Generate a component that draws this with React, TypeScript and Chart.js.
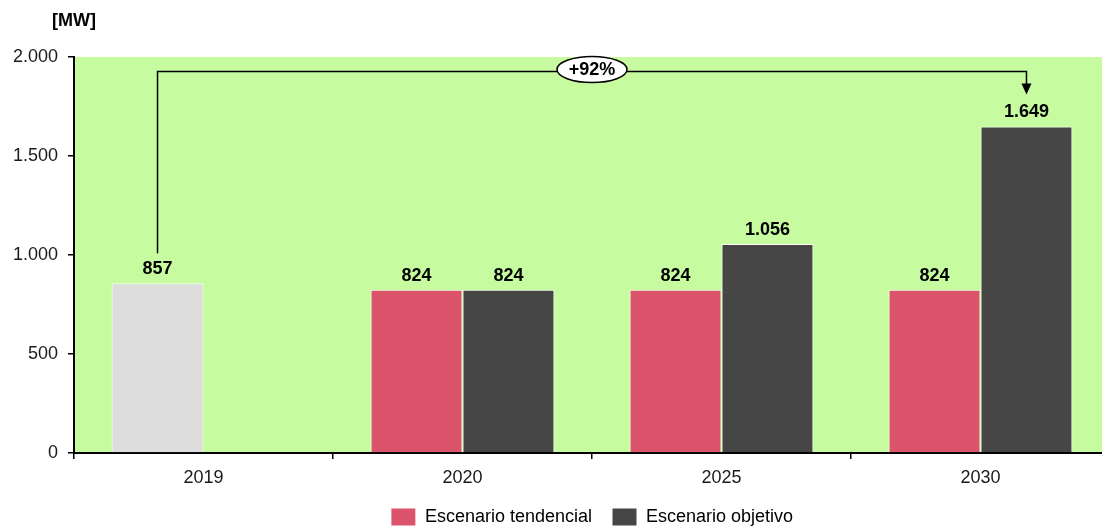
import React, { useEffect, useRef } from 'react';
import { Chart, registerables } from 'chart.js';
Chart.register(...registerables);

const categories = ['2019', '2020', '2025', '2030'];
const tendencialValues = [857, 824, 824, 824];
const objetivoValues: (number | null)[] = [null, 824, 1056, 1649];
const yTicks = [0, 500, 1000, 1500, 2000];
const seriesNames = ['Escenario tendencial', 'Escenario objetivo'];
const growthLabel = '+92%';
const unitLabel = '[MW]';

const RED = '#dc546b';
const DARK = '#464646';
const GRAY = '#dddddd';
const GREEN = '#c6fba0';
const TEXT = '#1a1a1a';
const FONT = "'Liberation Sans', Arial, Helvetica, sans-serif";

function fmt(v: number): string {
  return String(Math.round(v)).replace(/\B(?=(\d{3})+(?!\d))/g, '.');
}

const backgroundPlugin = {
  id: 'plotBg',
  beforeDraw(chart: any) {
    const { ctx, chartArea } = chart;
    ctx.save();
    ctx.fillStyle = GREEN;
    ctx.fillRect(chartArea.left, chartArea.top, chartArea.right - chartArea.left, chartArea.bottom - chartArea.top);
    ctx.restore();
  },
};

const valueLabelPlugin = {
  id: 'valueLabels',
  afterDatasetsDraw(chart: any) {
    const { ctx } = chart;
    ctx.save();
    ctx.font = `bold 18px ${FONT}`;
    ctx.fillStyle = '#000';
    ctx.textAlign = 'center';
    ctx.textBaseline = 'middle';
    chart.data.datasets.forEach((ds: any, di: number) => {
      const meta = chart.getDatasetMeta(di);
      meta.data.forEach((el: any, i: number) => {
        const v = ds.data[i];
        if (v === null || v === undefined) return;
        ctx.fillText(fmt(v), el.x, el.y - 14);
      });
    });
    ctx.restore();
  },
};

const annotationPlugin = {
  id: 'growthBracket',
  afterDraw(chart: any) {
    const { ctx, chartArea } = chart;
    const startEl = chart.getDatasetMeta(0).data[0];
    const endEl = chart.getDatasetMeta(1).data[3];
    if (!startEl || !endEl) return;
    const lineY = chartArea.top + 14.5;
    const x1 = startEl.x;
    const x2 = endEl.x;
    const y1 = startEl.y - 30;
    const tipY = endEl.y - 32;
    ctx.save();
    ctx.strokeStyle = '#000';
    ctx.lineWidth = 1.5;
    ctx.beginPath();
    ctx.moveTo(x1, y1);
    ctx.lineTo(x1, lineY);
    ctx.lineTo(x2, lineY);
    ctx.lineTo(x2, tipY - 10);
    ctx.stroke();
    ctx.fillStyle = '#000';
    ctx.beginPath();
    ctx.moveTo(x2 - 5, tipY - 11);
    ctx.lineTo(x2 + 5, tipY - 11);
    ctx.lineTo(x2, tipY);
    ctx.closePath();
    ctx.fill();
    const cx = (x1 + x2) / 2;
    const cy = lineY - 2;
    ctx.beginPath();
    ctx.ellipse(cx, cy, 35, 13, 0, 0, Math.PI * 2);
    ctx.fillStyle = '#fff';
    ctx.fill();
    ctx.lineWidth = 1.5;
    ctx.stroke();
    ctx.fillStyle = '#000';
    ctx.font = `bold 18px ${FONT}`;
    ctx.textAlign = 'center';
    ctx.textBaseline = 'middle';
    ctx.fillText(growthLabel, cx, cy + 1);
    ctx.fillText(unitLabel, chartArea.left, 21);
    ctx.restore();
  },
};

export default function App() {
  const ref = useRef<HTMLCanvasElement | null>(null);
  useEffect(() => {
    if (!ref.current) return;
    Chart.defaults.font.family = FONT;
    const chart = new Chart(ref.current, {
      type: 'bar',
      data: {
        labels: categories,
        datasets: [
          {
            label: seriesNames[0],
            data: tendencialValues,
            backgroundColor: tendencialValues.map((_, i) => (i === 0 ? GRAY : RED)),
            borderColor: '#ffffff',
            borderWidth: 1,
            categoryPercentage: 0.71,
            barPercentage: 1.0,
          },
          {
            label: seriesNames[1],
            data: objetivoValues,
            backgroundColor: DARK,
            borderColor: '#ffffff',
            borderWidth: 1,
            categoryPercentage: 0.71,
            barPercentage: 1.0,
          },
        ],
      },
      options: {
        responsive: false,
        animation: false,
        devicePixelRatio: 1,
        layout: { padding: { top: 57, left: 0, right: 10, bottom: 0 } },
        scales: {
          x: {
            grid: { drawOnChartArea: false, drawTicks: true, tickLength: 6, color: '#000', lineWidth: 1.5, offset: true },
            border: { color: '#000', width: 2 },
            ticks: { font: { size: 18 }, color: TEXT, padding: 8 },
            afterFit: (s: any) => { s.height = 35; },
          },
          y: {
            min: 0,
            max: 2000,
            afterBuildTicks: (s: any) => { s.ticks = yTicks.map((v) => ({ value: v })); },
            grid: { drawOnChartArea: false, drawTicks: true, tickLength: 6, color: '#000', lineWidth: 1.5 },
            border: { color: '#000', width: 2 },
            ticks: { font: { size: 18 }, color: TEXT, padding: 10, callback: (v: any) => fmt(Number(v)) },
            afterFit: (s: any) => { s.width = 74; },
          },
        },
        plugins: {
          tooltip: { enabled: false },
          legend: {
            position: 'bottom',
            fullSize: false,
            labels: {
              boxWidth: 25,
              boxHeight: 18,
              padding: 20,
              color: TEXT,
              font: { size: 18 },
              generateLabels: () =>
                seriesNames.map((n, i) => ({
                  text: n,
                  fillStyle: i === 0 ? RED : DARK,
                  strokeStyle: '#ffffff',
                  lineWidth: 1,
                  hidden: false,
                  datasetIndex: i,
                })),
            },
          },
        },
      } as any,
      plugins: [backgroundPlugin, valueLabelPlugin, annotationPlugin],
    });
    return () => chart.destroy();
  }, []);
  return (
    <div style={{ position: 'fixed', left: 0, top: 0, width: 1102, height: 527, overflow: 'hidden', background: '#fff' }}>
      <canvas ref={ref} width={1120} height={536} style={{ width: 1120, height: 536, display: 'block' }} />
    </div>
  );
}
